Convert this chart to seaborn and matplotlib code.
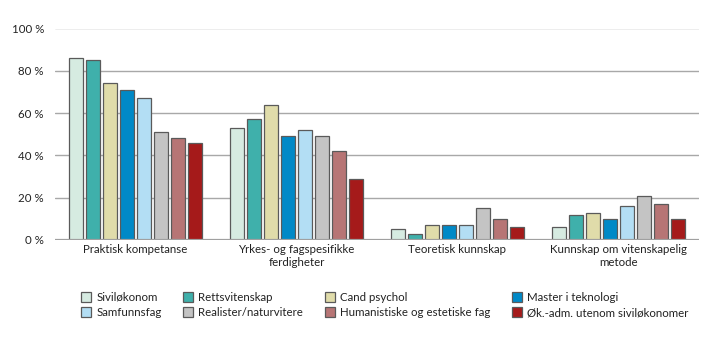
import matplotlib
matplotlib.use("Agg")
import matplotlib.pyplot as plt
import seaborn as sns
import pandas as pd

categories = [
    "Praktisk kompetanse",
    "Yrkes- og fagspesifikke\nferdigheter",
    "Teoretisk kunnskap",
    "Kunnskap om vitenskapelig\nmetode",
]
programs = [
    "Siviløkonom",
    "Rettsvitenskap",
    "Cand psychol",
    "Master i teknologi",
    "Samfunnsfag",
    "Realister/naturvitere",
    "Humanistiske og estetiske fag",
    "Øk.-adm. utenom siviløkonomer",
]
siviløkonom = [86, 53, 5, 6]
rettsvitenskap = [85, 57, 3, 12]
cand_psychol = [74, 64, 7, 13]
master_teknologi = [71, 49, 7, 10]
samfunnsfag = [67, 52, 7, 16]
realister = [51, 49, 15, 21]
humanistiske = [48, 42, 10, 17]
okadm = [46, 29, 6, 10]
series = [siviløkonom, rettsvitenskap, cand_psychol, master_teknologi,
          samfunnsfag, realister, humanistiske, okadm]

colors = ["#d6ebe1", "#3fb0ab", "#e0dcaa", "#0089c7",
          "#b3def4", "#c4c4c4", "#b77575", "#a51a1a"]
y_ticks = [0, 20, 40, 60, 80, 100]
y_labels = ["0 %", "20 %", "40 %", "60 %", "80 %", "100 %"]

rows = []
for prog, vals in zip(programs, series):
    for cat, v in zip(categories, vals):
        rows.append({"kategori": cat, "utdanning": prog, "andel": v})
df = pd.DataFrame(rows)

sns.set_theme(style="white")
plt.rcParams["font.family"] = ["Lato", "DejaVu Sans"]

fig = plt.figure(figsize=(7.19, 3.41), dpi=100)
ax = fig.add_axes([55 / 719, 1 - 240 / 341, 644 / 719, 211.5 / 341])

sns.barplot(data=df, x="kategori", y="andel", hue="utdanning",
            order=categories, hue_order=programs, palette=colors,
            saturation=1, width=0.845, gap=0.2, edgecolor="#5a5a5a",
            linewidth=0.9, ax=ax, zorder=3)

ax.set_xlim(-0.5, 3.5)
ax.set_ylim(0, 100)
ax.set_yticks(y_ticks)
ax.set_yticklabels(y_labels)
for y in y_ticks[1:]:
    ax.axhline(y, color="#a8a8a8", lw=1.0, zorder=1)
ax.axhline(0, color="#a0a0a0", lw=1.6, zorder=4)
for s in ax.spines.values():
    s.set_visible(False)
ax.tick_params(axis="both", length=0, labelsize=8.3, colors="#222222")
ax.tick_params(axis="y", pad=8)
ax.tick_params(axis="x", pad=3)
ax.set_xlabel("")
ax.set_ylabel("")

handles, labels = ax.get_legend_handles_labels()
ax.get_legend().remove()
order = [0, 4, 1, 5, 2, 6, 3, 7]
fig.legend([handles[i] for i in order], [labels[i] for i in order],
           ncol=4, loc="center", bbox_to_anchor=(385 / 719, 1 - 305 / 341),
           frameon=False, fontsize=8.3, handlelength=0.85, handleheight=0.85,
           handletextpad=0.45, columnspacing=1.9, labelspacing=0.35,
           labelcolor="#222222")

fig.savefig("out.png", dpi=100)
